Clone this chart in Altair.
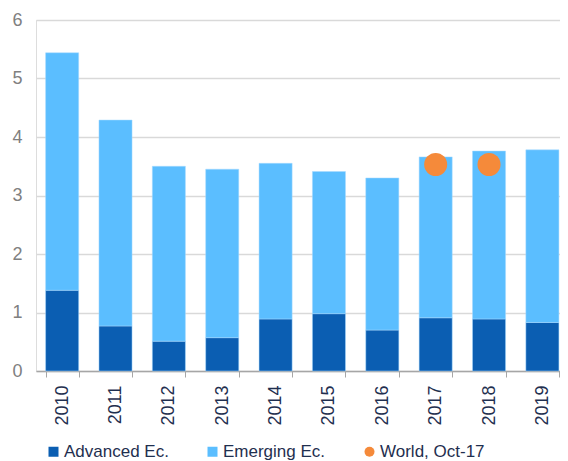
import altair as alt
import pandas as pd

years = ["2010", "2011", "2012", "2013", "2014", "2015", "2016", "2017", "2018", "2019"]
advanced = [1.38, 0.77, 0.51, 0.57, 0.89, 0.98, 0.70, 0.91, 0.89, 0.83]
totals = [5.44, 4.29, 3.50, 3.45, 3.55, 3.41, 3.30, 3.66, 3.76, 3.78]
emerging = [round(t - a, 2) for t, a in zip(totals, advanced)]
world_years = ["2017", "2018"]
world_vals = [3.53, 3.53]

series = ["Advanced Ec.", "Emerging Ec.", "World, Oct-17"]
colors = ["#0B5EB2", "#5BBEFF", "#F58A3A"]
shapes = ["square", "square", "circle"]

rows = []
for i, y in enumerate(years):
    rows.append({"year": y, "series": series[0], "value": advanced[i], "order": 0})
    rows.append({"year": y, "series": series[1], "value": emerging[i], "order": 1})
bars_df = pd.DataFrame(rows)
world_df = pd.DataFrame({"year": world_years, "value": world_vals, "series": series[2]})

color_scale = alt.Scale(domain=series, range=colors)
shape_scale = alt.Scale(domain=series, range=shapes)

x_enc = alt.X(
    "year:N",
    sort=years,
    scale=alt.Scale(paddingInner=0.38, paddingOuter=0.1, align=0.9),
    axis=alt.Axis(
        title=None,
        labelAngle=-90,
        labelFont="Liberation Sans",
        labelFontSize=18,
        labelColor="#1F2F4F",
        labelPadding=8,
        tickBand="extent",
        ticks=True,
        tickSize=6,
        tickColor="#A6A6A6",
        domainColor="#A6A6A6",
        domainWidth=1.5,
        grid=False,
    ),
)

y_scale = alt.Scale(domain=[0, 6], nice=False)
y_axis = alt.Axis(
    title=None,
    values=[0, 1, 2, 3, 4, 5, 6],
    format="d",
    labelFont="Liberation Sans",
    labelFontSize=18,
    labelColor="#808080",
    labelPadding=14,
    ticks=False,
    domain=False,
    grid=True,
    gridColor="#D9D9D9",
    gridWidth=1.5,
)

legend = alt.Legend(
    title=None,
    orient="none",
    legendX=9,
    legendY=423,
    direction="horizontal",
    columns=3,
    columnPadding=35,
    labelFont="Liberation Sans",
    labelFontSize=17,
    labelColor="#1F2F4F",
    symbolSize=100,
    symbolStrokeWidth=0,
    symbolOpacity=1,
    labelOffset=2,
)

bars = alt.Chart(bars_df).mark_bar(stroke="#A9DBFF", strokeWidth=0.5).encode(
    x=x_enc,
    y=alt.Y("value:Q", stack="zero", scale=y_scale, axis=y_axis),
    color=alt.Color("series:N", scale=color_scale, legend=legend),
    order=alt.Order("order:Q"),
)

points = alt.Chart(world_df).mark_point(filled=True, opacity=1, size=530).encode(
    x=alt.X("year:N", sort=years),
    y=alt.Y("value:Q", scale=y_scale),
    color=alt.Color("series:N", scale=color_scale, legend=legend),
    shape=alt.Shape("series:N", scale=shape_scale, legend=legend),
)

chart = alt.layer(bars, points).properties(
    width=524,
    height=351,
    autosize=alt.AutoSizeParams(type="none"),
    padding={"left": 28, "top": 12, "right": 0, "bottom": 90},
).configure_view(stroke=None).configure(background="white")

chart.save("out.html", embed_options={"renderer": "svg", "actions": False})
